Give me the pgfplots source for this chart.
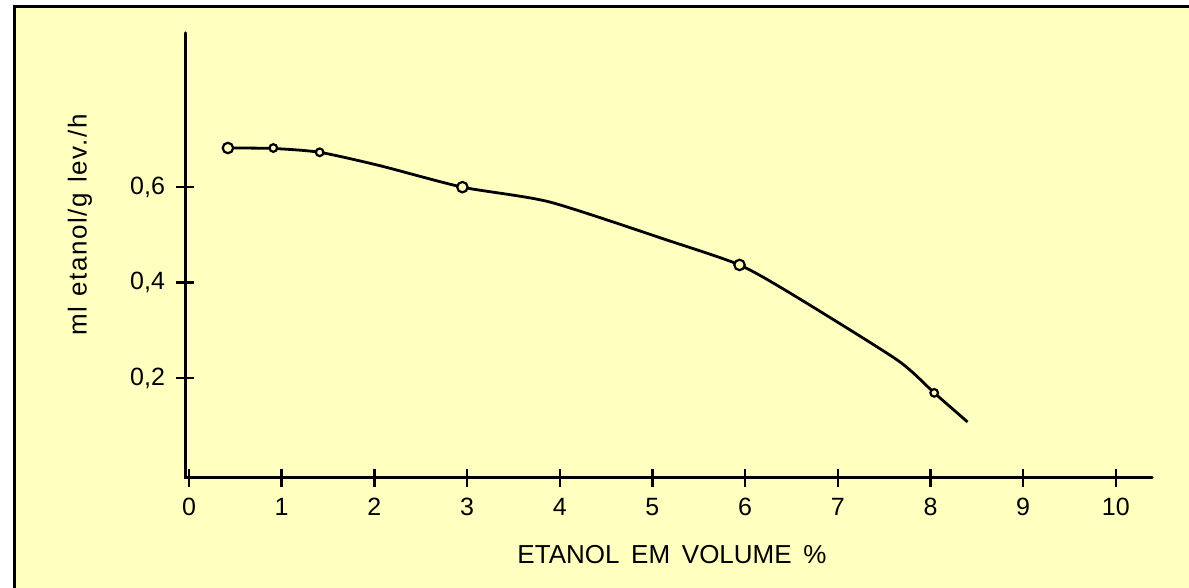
\documentclass[border=0pt]{standalone}
\usepackage{fontspec}
\setmainfont{Liberation Sans}
\newfontfamily\spacedfont[LetterSpace=6]{Liberation Sans}
\usepackage{pgfplots}
\pgfplotsset{compat=1.18}
\definecolor{bgyellow}{RGB}{255,255,192}
\begin{document}
\begin{tikzpicture}
\useasboundingbox (0,0) rectangle (594.5pt,294pt);
\fill[white] (0,0) rectangle (594.5pt,294pt);
\fill[bgyellow] (7pt,0) rectangle (594.5pt,290.5pt);
\draw[line width=1.5pt] (7pt,0) -- (7pt,290.5pt) -- (594.5pt,290.5pt);
\begin{axis}[
  at={(92.5pt,55pt)}, anchor=south west,
  scale only axis, width=483.5pt, height=222.5pt,
  xmin=-0.043, xmax=10.39, ymin=-0.0094, ymax=0.923,
  axis x line=bottom, axis y line=left,
  axis line style={draw=none},
  xtick={0,1,2,3,4,5,6,7,8,9,10},
  ytick={0.2,0.4,0.6}, yticklabels={0{,}2,0{,}4,0{,}6},
  tick align=center, major tick length=9pt,
  tick style={line width=1.2pt,black},
  /pgf/number format/assume math mode=true,
  ticklabel style={font=\fontsize{12.5}{14}\selectfont},
  xticklabel style={yshift=-2pt},
  yticklabel style={xshift=-2pt},
  clip=false,
]
\draw[line width=1.5pt, line cap=round] (rel axis cs:0,1) -- (rel axis cs:0,0) -- (rel axis cs:1,0);
\addplot[black, line width=1.4pt, smooth, tension=0.4] coordinates {
  (0.42,0.682) (0.91,0.681) (1.41,0.673) (2.06,0.645) (2.95,0.600)
  (3.89,0.569) (5.16,0.489) (5.94,0.437) (6.52,0.374) (7.64,0.238)
  (8.04,0.169) (8.40,0.108)};
\addplot[only marks, mark=*, mark size=2.6pt, mark options={fill=bgyellow, draw=black, line width=1.1pt}] coordinates {
  (0.42,0.682) (2.95,0.600) (5.94,0.437)};
\addplot[only marks, mark=*, mark size=1.9pt, mark options={fill=bgyellow, draw=black, line width=1.1pt}] coordinates {
  (0.91,0.682) (1.41,0.673) (8.04,0.169)};
\end{axis}
\node[rotate=90, font=\fontsize{13}{15}\spacedfont] at (40pt,181.5pt) {ml\hspace{0.4em}etanol/g\hspace{0.4em}lev./h};
\node[font=\fontsize{13}{15}\selectfont] at (336pt,16.5pt) {ETANOL\hspace{0.45em}EM\hspace{0.45em}VOLUME\hspace{0.45em}\%};
\end{tikzpicture}
\end{document}
